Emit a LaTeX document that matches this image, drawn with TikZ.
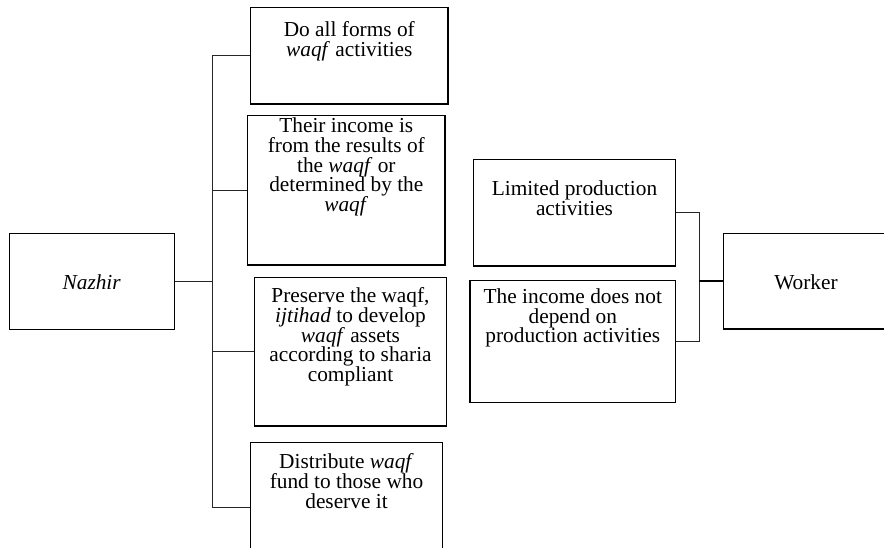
\documentclass[tikz,border=0pt]{standalone}
\usepackage{fontspec}
\setmainfont{Liberation Serif}
\begin{document}
\begin{tikzpicture}[x=0.75pt,y=-0.75pt,
  box/.style={draw=black,line width=0.9pt,rectangle,inner sep=0pt},
  txt/.style={align=center,inner sep=0pt,font=\fontsize{16}{14.8}\selectfont},
  link/.style={draw=black!85,line width=0.75pt},
  thicklink/.style={draw=black,line width=1.6pt}]
\useasboundingbox (0,0) rectangle (884,548);
\clip (0,0) rectangle (884,548);
% left column: Nazhir and its four duties
\node[box,minimum width=123.75pt,minimum height=72pt] (nazhir) at (91.7,281.3) {};
\node[box,minimum width=147.9pt,minimum height=72.5pt] (b1) at (349.3,55.7) {};
\node[box,minimum width=148pt,minimum height=112pt] (b2) at (346.3,190.3) {};
\node[box,minimum width=144pt,minimum height=111.5pt] (b3) at (350.5,351.7) {};
\node[box,minimum width=143.7pt,minimum height=97.5pt] (b4) at (346.5,507.3) {};
% right column: Worker and its two traits
\node[box,minimum width=151.8pt,minimum height=80pt] (r1) at (574.5,212.7) {};
\node[box,minimum width=154.3pt,minimum height=91.8pt] (r2) at (572.8,341.5) {};
\node[box,minimum width=130pt,minimum height=71.8pt] (worker) at (810,281.2) {};
% texts
\node[txt] (tn) at (91.7,282) {\textit{Nazhir}};
\node[txt] (t1) at (349.3,41) {Do all forms of\\\textit{waqf} activities};
\node[txt] (t2) at (346.3,167) {Their income is\\from the results of\\the \textit{waqf} or\\determined by the\\\textit{waqf}};
\node[txt] (t3) at (350.5,337) {Preserve the waqf,\\\textit{ijtihad} to develop\\\textit{waqf} assets\\according to sharia\\compliant};
\node[txt] (t4) at (346.5,481) {Distribute \textit{waqf}\\fund to those who\\deserve it};
\node[txt] (tr1) at (574.5,198) {Limited production\\activities};
\node[txt] (tr2) at (572.8,318) {The income does not\\depend on\\production activities};
\node[txt] (tw) at (806,282) {Worker};
% bus lines
\coordinate (lbus) at (212.7,0);
\coordinate (rbus) at (699.3,0);
\draw[link] (nazhir.east) -- (lbus |- nazhir.east);
\draw[link] (b1.west) -- (lbus |- b1.west) -- (lbus |- b4.west) -- (b4.west);
\draw[link] (b2.west) -- (lbus |- b2.west);
\draw[link] (b3.west) -- (lbus |- b3.west);
\draw[link] (r1.east) -- (rbus |- r1.east) -- (rbus |- r2.east) -- (r2.east);
\draw[thicklink] (worker.west) -- (rbus |- worker.west);
\end{tikzpicture}
\end{document}
